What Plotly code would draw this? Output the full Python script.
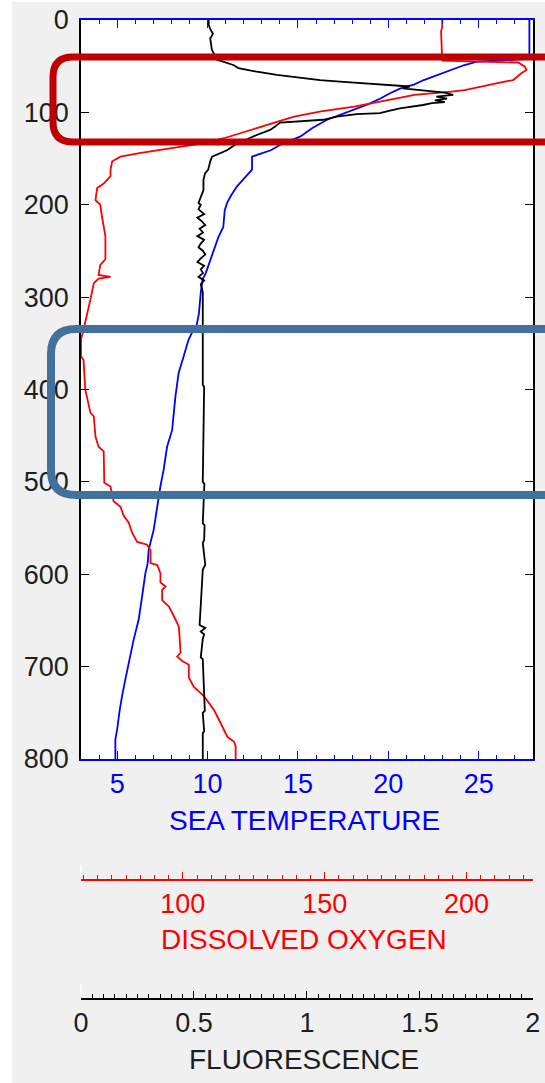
import plotly.graph_objects as go

# ---------------- data (depth in m) ----------------
temp_depth = [0, 42, 44, 45, 49, 54, 59.5, 65, 70, 74, 79, 85, 91, 97, 103, 108, 117, 126,
              135, 141, 146, 148, 162, 170, 180, 190, 198, 206, 224, 235, 246, 256, 264,
              274, 281, 296, 318, 330, 340, 346, 364, 382, 408, 444, 462, 487, 505, 527,
              552, 566, 574, 588, 599, 624, 649, 671, 696, 714, 732, 747, 768, 779, 800]
temp_vals = [27.8, 27.8, 26.0, 24.9, 24.17, 23.44, 22.70, 21.96, 21.41, 20.67, 20.12, 19.56,
             18.9, 18.09, 17.3, 16.61, 15.8, 15.14, 14.03, 13.5, 12.74, 12.46, 12.46, 12.1,
             11.63, 11.3, 11.08, 10.95, 10.87, 10.6, 10.4, 10.2, 10.05, 9.9, 9.72, 9.62,
             9.52, 9.4, 9.1, 8.95, 8.68, 8.40, 8.22, 8.04, 7.76, 7.57, 7.39, 7.21, 7.02,
             6.84, 6.74, 6.69, 6.56, 6.38, 6.19, 5.91, 5.63, 5.45, 5.27, 5.14, 5.0, 4.90, 4.90]

oxy_depth = [0, 8, 12, 36, 44, 45, 46, 50.5, 54, 57.7, 61.4, 65, 66.8, 70, 72, 75.8, 77.6,
             79.4, 81, 84.7, 88.4, 93.8, 99, 104.6, 110, 119, 128, 133, 137, 141, 144, 148,
             153, 162, 169, 177, 182, 195, 200, 213, 234, 259, 265, 276, 278, 280, 285, 303,
             321, 335, 346, 364, 368, 400, 408, 425, 429, 451, 462, 467, 501, 505, 521, 527,
             537, 544, 555, 565, 568, 574, 588, 590, 599, 609, 613, 617, 628, 635, 649, 657,
             685, 689, 694, 698, 712, 722, 732, 747, 761, 776, 781, 786, 800]
oxy_vals = [191.4, 191.4, 191.0, 191.4, 191.4, 204.0, 218.2, 220.5, 221.1, 219.3, 217.6,
            216.4, 213.4, 208.7, 205.2, 199.3, 194.6, 187.5, 181.6, 175.8, 169.9, 160.4,
            148.7, 139.2, 133.4, 123.9, 114.5, 108.0, 99.2, 92.1, 84.7, 78.0, 75.1, 74.5,
            74.5, 72.1, 69.8, 69.2, 70.9, 71.5, 72.7, 72.7, 70.9, 70.3, 74.5, 70.3, 68.6,
            67.4, 66.2, 65.0, 64.1, 64.1, 65.0, 65.6, 66.2, 67.4, 68.6, 69.2, 70.3, 72.1,
            72.3, 74.5, 75.6, 78.0, 79.2, 80.9, 82.1, 83.9, 87.4, 88.6, 88.6, 91.0, 92.1,
            92.1, 93.9, 92.7, 92.7, 95.1, 97.4, 98.6, 99.2, 98.0, 99.8, 102.1, 102.1, 103.9,
            107.4, 111.0, 113.3, 115.7, 118.0, 118.6, 118.6]

fluo_depth = [0, 5, 10, 15, 20, 32, 43, 48.7, 52, 56, 59.5, 63, 65, 66.8, 68.5, 70, 72, 74,
              75.8, 77.6, 78.7, 81, 82, 83, 85, 87, 89, 90, 92, 93.8, 95.6, 98, 100.9, 102,
              104.6, 108, 109.4, 111, 115.4, 119, 124.5, 130, 135, 141, 148, 153, 162, 166,
              173, 184, 198, 200, 205, 210, 214, 218, 222, 226, 230, 234, 238, 242, 246,
              250, 254, 258, 262, 266, 270, 274, 278, 282, 286, 290, 295, 300, 395, 397,
              500, 502, 545, 547, 563, 566, 590, 592, 595, 655, 658, 662, 665, 670, 690,
              692, 748, 750, 770, 772, 800]
fluo_vals = [0.565, 0.565, 0.572, 0.584, 0.572, 0.579, 0.602, 0.674, 0.697, 0.778, 0.867,
             0.984, 1.058, 1.146, 1.264, 1.323, 1.455, 1.424, 1.50, 1.558, 1.61, 1.647, 1.61,
             1.573, 1.62, 1.566, 1.61, 1.553, 1.514, 1.455, 1.411, 1.367, 1.323, 1.22,
             1.132, 1.072, 0.955, 0.881, 0.859, 0.837, 0.778, 0.727, 0.682, 0.646, 0.58,
             0.572, 0.563, 0.549, 0.542, 0.542, 0.52, 0.53, 0.52, 0.545, 0.515, 0.535, 0.55,
             0.525, 0.54, 0.515, 0.545, 0.53, 0.52, 0.54, 0.55, 0.53, 0.515, 0.545, 0.53,
             0.54, 0.52, 0.545, 0.53, 0.535, 0.539, 0.539, 0.539, 0.545, 0.539, 0.546,
             0.539, 0.547, 0.545, 0.539, 0.55, 0.545, 0.539, 0.525, 0.55, 0.53, 0.545,
             0.539, 0.53, 0.539, 0.548, 0.539, 0.545, 0.539, 0.539]

temp_ticks = [5, 10, 15, 20, 25]
oxy_ticks = [100, 150, 200]
fluo_ticks = [0, 0.5, 1, 1.5, 2]
depth_ticks = [0, 100, 200, 300, 400, 500, 600, 700, 800]

# ---------------- page geometry ----------------
W, H = 545, 1083
ML, MR, MT, MB = 81, 12, 20, 84
PW = W - ML - MR
PH = H - MT - MB


def px(xp):
    return (xp - ML) / PW


def py(yp):
    return (H - MB - yp) / PH


FONT = "Liberation Sans, Arial, sans-serif"
BLUE, RED, BLACK = "#0000ff", "#ff0000", "#000000"
LW = 1.8

fig = go.Figure()
fig.add_trace(go.Scatter(x=temp_vals, y=temp_depth, mode="lines", xaxis="x", yaxis="y",
                         line=dict(color=BLUE, width=LW), showlegend=False))
fig.add_trace(go.Scatter(x=oxy_vals, y=oxy_depth, mode="lines", xaxis="x2", yaxis="y",
                         line=dict(color=RED, width=LW), showlegend=False))
fig.add_trace(go.Scatter(x=fluo_vals, y=fluo_depth, mode="lines", xaxis="x3", yaxis="y",
                         line=dict(color=BLACK, width=LW), showlegend=False))

plot_bottom = 759
fig.update_layout(
    width=W, height=H,
    margin=dict(l=ML, r=MR, t=MT, b=MB, pad=0, autoexpand=False),
    paper_bgcolor="#f0f0f0", plot_bgcolor="#ffffff",
    font=dict(family=FONT, size=27, color="#1e1e1e"),
    xaxis=dict(domain=[0, 1], anchor="y", side="bottom", range=[3, 28], automargin=False,
               showline=True, linecolor=BLUE, linewidth=1.5, mirror="allticks",
               ticks="inside", ticklen=8, tickwidth=1.3, tickcolor=BLUE,
               tickvals=temp_ticks, tickfont=dict(color=BLUE, size=27),
               ticklabelstandoff=0,
               minor=dict(dtick=1, tick0=0, ticks="inside", ticklen=4, tickcolor=BLUE,
                          tickwidth=1.2, showgrid=False),
               showgrid=False, zeroline=False),
    yaxis=dict(domain=[py(plot_bottom), 1], anchor="x", range=[800, 0], automargin=False,
               showline=True, linecolor=BLACK, linewidth=1.5, mirror="ticks",
               ticks="inside", ticklen=8, tickwidth=1.3, tickcolor=BLACK,
               tickvals=depth_ticks, tickfont=dict(color="#1e1e1e", size=27),
               ticklabelstandoff=5,
               showgrid=False, zeroline=False),
    xaxis2=dict(overlaying="x", anchor="free", position=py(880), side="bottom",
                range=[64.1, 223.4], automargin=False,
                showline=True, linecolor=RED, linewidth=1.5,
                ticks="inside", ticklen=7, tickwidth=1.3, tickcolor=RED,
                tickvals=oxy_ticks, tickfont=dict(color=RED, size=27),
                ticklabelstandoff=0,
                minor=dict(dtick=5, tick0=0, ticks="inside", ticklen=4, tickcolor=RED,
                           tickwidth=1.2, showgrid=False),
                showgrid=False, zeroline=False),
    xaxis3=dict(overlaying="x", anchor="free", position=0, side="bottom",
                range=[0, 2.0005], automargin=False,
                showline=True, linecolor=BLACK, linewidth=1.5,
                ticks="inside", ticklen=7, tickwidth=1.3, tickcolor=BLACK,
                tickvals=fluo_ticks, ticktext=["0", "0.5", "1", "1.5", "2"],
                tickfont=dict(color="#1e1e1e", size=27),
                ticklabelstandoff=0,
                minor=dict(dtick=0.05, tick0=0, ticks="inside", ticklen=4,
                           tickcolor=BLACK, tickwidth=1.2, showgrid=False),
                showgrid=False, zeroline=False),
)

# axis titles
titles = [("SEA TEMPERATURE", BLUE, 820), ("DISSOLVED OXYGEN", RED, 939),
          ("FLUORESCENCE", "#1e1e1e", 1059)]
for text, col, yc in titles:
    fig.add_annotation(text=text, xref="paper", yref="paper", x=px(304), y=py(yc),
                       xanchor="center", yanchor="middle", showarrow=False,
                       font=dict(family=FONT, size=28, color=col))

shapes = []
# white strips along the left and top edges of the page
shapes.append(dict(type="rect", xref="paper", yref="paper", x0=px(0), x1=px(12),
                   y0=py(H), y1=py(0), fillcolor="#ffffff", line=dict(width=0), layer="below"))
shapes.append(dict(type="rect", xref="paper", yref="paper", x0=px(0), x1=px(W),
                   y0=py(2), y1=py(0), fillcolor="#ffffff", line=dict(width=0), layer="below"))
# short white stubs at the left end of the lower axes
for y_axis in (880, 999):
    shapes.append(dict(type="line", xref="paper", yref="paper", x0=px(81), x1=px(81),
                       y0=py(y_axis - 4), y1=py(y_axis - 15),
                       line=dict(color="#ffffff", width=1.5)))


def rounded_box(left, top, bottom, right, r):
    return (f"M {px(right)},{py(top)} L {px(left + r)},{py(top)} "
            f"Q {px(left)},{py(top)} {px(left)},{py(top + r)} "
            f"L {px(left)},{py(bottom - r)} "
            f"Q {px(left)},{py(bottom)} {px(left + r)},{py(bottom)} "
            f"L {px(right)},{py(bottom)}")


# highlight frames around the surface layer and the oxygen minimum zone
shapes.append(dict(type="path", xref="paper", yref="paper",
                   path=rounded_box(53, 57, 142, 580, 20),
                   line=dict(color="#c00000", width=7), layer="above"))
shapes.append(dict(type="path", xref="paper", yref="paper",
                   path=rounded_box(51, 329, 495, 580, 25),
                   line=dict(color="#41719c", width=8), layer="above"))
fig.update_layout(shapes=shapes)

fig.write_html("out.html")
